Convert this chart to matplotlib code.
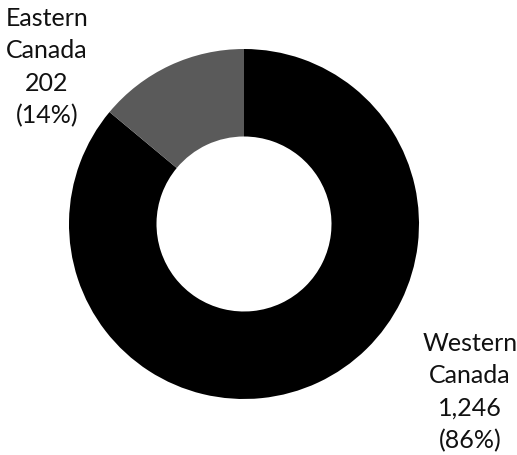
import matplotlib.pyplot as plt

# data
regions = ["Western Canada", "Eastern Canada"]
counts = [1246, 202]
shares = [86, 14]
colors = ["#000000", "#5a5a5a"]

plt.rcParams['font.family'] = ['Lato', 'DejaVu Sans']

fig = plt.figure(figsize=(5.17, 4.56), dpi=100)
ax = fig.add_axes([69 / 517, 56 / 456, 350 / 517, 350 / 456])

ax.pie(counts, colors=colors, startangle=90, counterclock=False,
       radius=1, wedgeprops=dict(width=0.5, edgecolor='none'))
ax.set_xlim(-1, 1)
ax.set_ylim(-1, 1)
ax.set_aspect('equal')
ax.axis('off')

labels = [f"{r.replace(' ', chr(10))}\n{c:,}\n({s}%)" for r, c, s in zip(regions, counts, shares)]
# label positions (figure fraction)
fig.text(470 / 517, 1 - 392 / 456, labels[0], ha='center', va='center',
         fontsize=18, linespacing=1.5, color='#111111')
fig.text(47 / 517, 1 - 67 / 456, labels[1], ha='center', va='center',
         fontsize=18, linespacing=1.5, color='#111111')

fig.savefig("out.png", dpi=100)
